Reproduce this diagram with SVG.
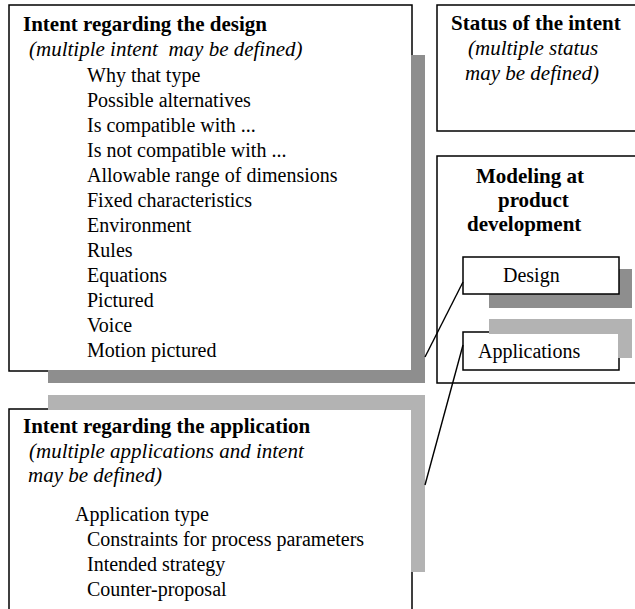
<svg xmlns="http://www.w3.org/2000/svg" width="635" height="609" viewBox="0 0 635 609" font-family="'Liberation Serif', Tinos, 'Times New Roman', 'DejaVu Serif', serif">
  <style>
    .box { fill: #ffffff; stroke: #000000; stroke-width: 1.5; }
    .dark { fill: #8e8e8e; }
    .light { fill: #b3b3b3; }
    .link { stroke: #000000; stroke-width: 1.4; fill: none; }
    text { font-family: 'Liberation Serif', Tinos, 'Times New Roman', 'DejaVu Serif', serif; fill: #000000; }
    .title { font-size: 21px; font-weight: bold; }
    .note { font-size: 21px; font-style: italic; }
    .item { font-size: 20px; }
  </style>

  <!-- Intent regarding the design -->
  <g id="design-intent">
    <rect class="box" x="9" y="5" width="403" height="366"/>
    <path class="dark" d="M411 55 H425 V383 H48 V370 H411 Z"/>
    <text class="title" x="23" y="31">Intent regarding the design</text>
    <text class="note" x="29" y="56" xml:space="preserve">(multiple intent  may be defined)</text>
    <text class="item" x="87" y="82">Why that type</text>
    <text class="item" x="87" y="107">Possible alternatives</text>
    <text class="item" x="87" y="132">Is compatible with ...</text>
    <text class="item" x="87" y="157">Is not compatible with ...</text>
    <text class="item" x="87" y="182">Allowable range of dimensions</text>
    <text class="item" x="87" y="207">Fixed characteristics</text>
    <text class="item" x="87" y="232">Environment</text>
    <text class="item" x="87" y="257">Rules</text>
    <text class="item" x="87" y="282">Equations</text>
    <text class="item" x="87" y="307">Pictured</text>
    <text class="item" x="87" y="332">Voice</text>
    <text class="item" x="87" y="357">Motion pictured</text>
  </g>

  <!-- Status of the intent -->
  <g id="intent-status">
    <rect class="box" x="437" y="5" width="220" height="126"/>
    <text class="title" x="451" y="30">Status of the intent</text>
    <text class="note" x="468" y="55">(multiple status</text>
    <text class="note" x="465" y="80">may be defined)</text>
  </g>

  <!-- Modeling at product development -->
  <g id="modeling">
    <rect class="box" x="437" y="156" width="220" height="227"/>
    <text class="title" x="476" y="183">Modeling at</text>
    <text class="title" x="498" y="207">product</text>
    <text class="title" x="467" y="231">development</text>
  </g>

  <g id="design">
    <rect class="dark" x="489" y="269" width="143" height="39"/>
    <rect class="box" x="463" y="257" width="156" height="37"/>
    <text class="item" x="503" y="282">Design</text>
  </g>

  <g id="applications">
    <rect class="box" x="463" y="332" width="156" height="38"/>
    <path class="light" d="M489 319 H632 V358 H618 V334 H489 Z"/>
    <text class="item" x="478" y="358">Applications</text>
  </g>

  <!-- Intent regarding the application -->
  <g id="application-intent">
    <rect class="box" x="9" y="409" width="403" height="230"/>
    <path class="light" d="M48 395 H425 V572 H411 V410 H48 Z"/>
    <text class="title" x="23" y="433">Intent regarding the application</text>
    <text class="note" x="29" y="458">(multiple applications and intent</text>
    <text class="note" x="28" y="482">may be defined)</text>
    <text class="item" x="75" y="521">Application type</text>
    <text class="item" x="87" y="546">Constraints for process parameters</text>
    <text class="item" x="87" y="571">Intended strategy</text>
    <text class="item" x="87" y="596">Counter-proposal</text>
  </g>

  <g id="connectors">
    <line class="link" x1="425" y1="357" x2="463" y2="282"/>
    <line class="link" x1="463" y1="345" x2="425" y2="485"/>
  </g>
</svg>
